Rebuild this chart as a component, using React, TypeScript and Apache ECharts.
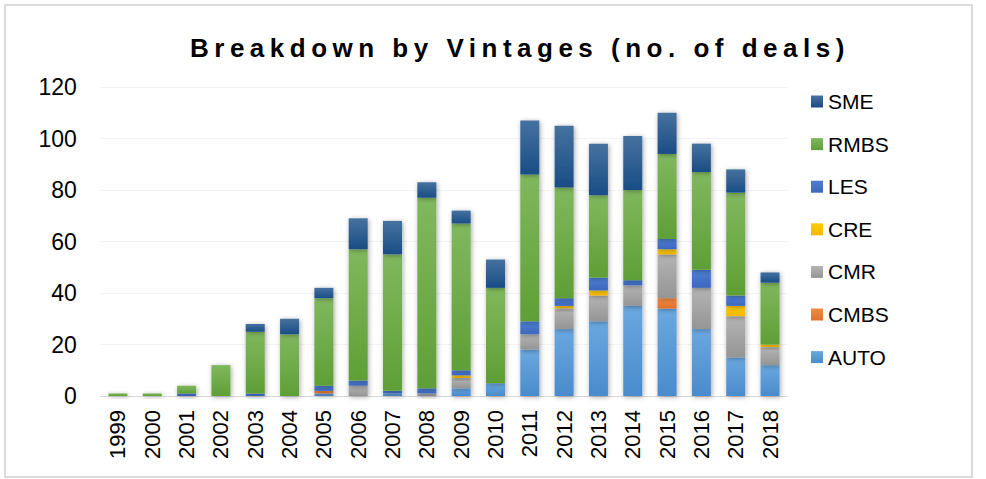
import React, { useEffect, useRef } from "react";
import * as echarts from "echarts";

const TITLE = "Breakdown by Vintages (no. of deals)";
const years = ["1999","2000","2001","2002","2003","2004","2005","2006","2007","2008","2009","2010","2011","2012","2013","2014","2015","2016","2017","2018"];
const AUTO = [0,0,0,0,0,0,1,0,1,0,3,5,18,26,29,35,34,26,15,12];
const CMBS = [0,0,0,0,0,0,1,0,0,0,0,0,0,0,0,0,4,0,0,0];
const CMR = [0,0,0,0,0,0,0,4,0,1,4,0,6,8,10,8,17,16,16,7];
const CRE = [0,0,0,0,0,0,0,0,0,0,1,0,0,1,2,0,2,0,4,1];
const LES = [0,0,1,0,1,0,2,2,1,2,2,0,5,3,5,2,4,7,4,0];
const RMBS = [1,1,3,12,24,24,34,51,53,74,57,37,57,43,32,35,33,38,40,24];
const SME = [0,0,0,0,3,6,4,12,13,6,5,11,21,24,20,21,16,11,9,4];
const yTicks = { min: 0, max: 120, interval: 20 };
const legendOrder = ["SME", "RMBS", "LES", "CRE", "CMR", "CMBS", "AUTO"];

const FONT = "'Liberation Sans', Arial, sans-serif";

const grad = (top: string, bottom: string) =>
  new echarts.graphic.LinearGradient(0, 0, 0, 1, [
    { offset: 0, color: top },
    { offset: 1, color: bottom },
  ]);

export default function App() {
  const ref = useRef<HTMLDivElement>(null);
  useEffect(() => {
    if (!ref.current) return;
    const chart = echarts.init(ref.current, undefined, { renderer: "svg" });
    const seriesDefs: [string, number[], string, string][] = [
      ["AUTO", AUTO, "#6aa8df", "#4a8bcd"],
      ["CMBS", CMBS, "#f28c45", "#e2702a"],
      ["CMR", CMR, "#b4b4b4", "#959595"],
      ["CRE", CRE, "#ffca10", "#f5b800"],
      ["LES", LES, "#4d7fd2", "#3d67bf"],
      ["RMBS", RMBS, "#80b85e", "#5f9f36"],
      ["SME", SME, "#46729f", "#194d85"],
    ];
    chart.setOption({
      animation: false,
      backgroundColor: "#ffffff",
      title: {
        text: TITLE,
        left: 190,
        top: 35,
        padding: 0,
        textStyle: { fontSize: 26, fontWeight: "bold", color: "#000", fontFamily: FONT },
      },
      graphic: [
        {
          type: "rect",
          shape: { x: 5, y: 5, width: 967, height: 472 },
          style: { fill: "none", stroke: "#d0d0d0", lineWidth: 1.5 },
          silent: true,
        },
      ],
      legend: {
        orient: "vertical",
        left: 811,
        top: 91,
        padding: 0,
        itemWidth: 12,
        itemHeight: 12,
        itemGap: 21.6,
        icon: "rect",
        data: legendOrder,
        textStyle: { fontSize: 21, color: "#000", fontFamily: FONT, lineHeight: 20 },
      },
      grid: { left: 100.8, right: 198.8, top: 87, bottom: 83 },
      xAxis: {
        type: "category",
        data: years,
        axisTick: { show: false },
        axisLine: { lineStyle: { color: "#d9d9d9", width: 1 } },
        axisLabel: { rotate: 90, fontSize: 22, margin: 14, color: "#000", interval: 0, fontFamily: FONT },
      },
      yAxis: {
        type: "value",
        min: yTicks.min,
        max: yTicks.max,
        interval: yTicks.interval,
        axisLine: { show: false },
        axisTick: { show: false },
        axisLabel: { fontSize: 23, margin: 24, color: "#000", fontFamily: FONT },
        splitLine: { lineStyle: { color: "#f2f2f2", width: 1 } },
      },
      series: seriesDefs.map(([name, data, top, bottom]) => ({
        name,
        type: "bar",
        stack: "total",
        barWidth: 19,
        data,
        itemStyle: {
          color: grad(top, bottom),
          shadowBlur: 5,
          shadowColor: "rgba(0,0,0,0.35)",
          shadowOffsetX: 1,
          shadowOffsetY: 1,
        },
        emphasis: { disabled: true },
      })),
    });
    const texts = ref.current.querySelectorAll("text");
    texts.forEach((t) => {
      if (t.textContent === TITLE) {
        (t as SVGTextElement).style.letterSpacing = "5.5px";
      }
    });
    return () => chart.dispose();
  }, []);
  return (
    <div
      ref={ref}
      style={{ position: "fixed", left: 0, top: 0, width: 986, height: 479 }}
    />
  );
}
